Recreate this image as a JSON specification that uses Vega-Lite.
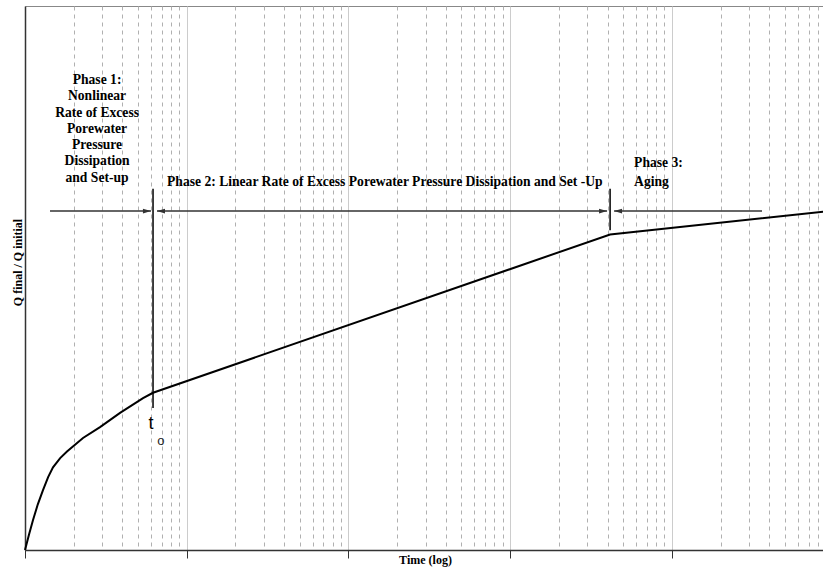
{
  "$schema": "https://vega.github.io/schema/vega-lite/v6.json",
  "width": 800,
  "height": 544,
  "autosize": {"type": "none"},
  "padding": {"left": 25, "top": 6, "right": 0, "bottom": 17},
  "background": "white",
  "config": {"view": {"stroke": "#888", "strokeWidth": 1}},
  "datasets": {
    "curve": [
      {"t": 1, "v": 0},
      {"t": 1.06, "v": 2.9},
      {"t": 1.121, "v": 5.5},
      {"t": 1.2, "v": 8.4},
      {"t": 1.292, "v": 11.0},
      {"t": 1.39, "v": 13.4},
      {"t": 1.49, "v": 15.2},
      {"t": 1.65, "v": 16.9},
      {"t": 1.818, "v": 18.1},
      {"t": 2.284, "v": 20.6},
      {"t": 2.91, "v": 22.6},
      {"t": 3.87, "v": 25.2},
      {"t": 5.37, "v": 27.9},
      {"t": 6.19, "v": 28.9},
      {"t": 4150, "v": 58.0},
      {"t": 88500, "v": 62.2}
    ],
    "dividers": [
      {"t": 6.19, "v": 26.1, "v2": 66.4},
      {"t": 4150, "v": 58.8, "v2": 66.4}
    ],
    "shafts": [
      {"t": 1.428, "t2": 6.01, "v": 62.3},
      {"t": 6.55, "t2": 3975, "v": 62.3},
      {"t": 4393, "t2": 36100, "v": 62.3}
    ],
    "heads": [
      {"t": 6.01, "v": 62.3, "dir": "right"},
      {"t": 6.55, "v": 62.3, "dir": "left"},
      {"t": 3975, "v": 62.3, "dir": "right"},
      {"t": 4393, "v": 62.3, "dir": "left"}
    ],
    "phase1": [{"t": 2.79, "v": 86.4, "label": "Phase 1:\nNonlinear\nRate of Excess\nPorewater\nPressure\nDissipation\nand Set-up"}],
    "phase2": [{"t": 168, "v": 67.6, "label": "Phase 2:  Linear Rate of Excess Porewater Pressure Dissipation and Set -Up"}],
    "phase3": [{"t": 5840, "v": 71.1, "label": "Phase 3:\nAging"}],
    "tlabel": [{"t": 6.01, "v": 23.1, "label": "t"}],
    "olabel": [{"t": 6.93, "v": 20.0, "label": "o"}]
  },
  "layer": [
    {
      "data": {"name": "curve"},
      "mark": {"type": "line", "color": "black", "strokeWidth": 2, "interpolate": "linear"},
      "encoding": {
        "x": {
          "field": "t", "type": "quantitative", "title": "Time (log)",
          "scale": {"type": "log", "domain": [1, 88500], "nice": false},
          "axis": {
            "values": [1,2,3,4,5,6,7,8,9,10,20,30,40,50,60,70,80,90,100,200,300,400,500,600,700,800,900,1000,2000,3000,4000,5000,6000,7000,8000,9000,10000,20000,30000,40000,50000,60000,70000,80000],
            "labels": false,
            "grid": true,
            "gridDash": {"condition": {"test": "abs(log(datum.value)/LN10 - round(log(datum.value)/LN10)) < 0.001", "value": []}, "value": [4, 4]},
            "gridColor": {"condition": {"test": "abs(log(datum.value)/LN10 - round(log(datum.value)/LN10)) < 0.001", "value": "#cccccc"}, "value": "#b0b0b0"},
            "gridWidth": 1,
            "ticks": true,
            "tickSize": 8,
            "tickColor": "#333",
            "tickOpacity": {"condition": {"test": "abs(log(datum.value)/LN10 - round(log(datum.value)/LN10)) < 0.001", "value": 1}, "value": 0},
            "domainColor": "#333",
            "domainWidth": 1.5,
            "titleFont": "Liberation Serif",
            "titleFontWeight": "bold",
            "titleFontSize": 12,
            "titleColor": "black",
            "titleBaseline": "middle",
            "titleY": 9
          }
        },
        "y": {
          "field": "v", "type": "quantitative", "title": "Q final / Q initial",
          "scale": {"domain": [0, 100], "nice": false},
          "axis": {
            "labels": false, "ticks": false, "grid": false,
            "domainColor": "#333", "domainWidth": 1.5,
            "titleFont": "Liberation Serif", "titleFontWeight": "bold", "titleFontSize": 12, "titleColor": "black",
            "titleAngle": 270, "titleBaseline": "middle", "titleAlign": "center",
            "titleX": -8, "titleY": 256
          }
        }
      }
    },
    {
      "data": {"name": "dividers"},
      "mark": {"type": "rule", "color": "black", "strokeWidth": 1.5},
      "encoding": {
        "x": {"field": "t", "type": "quantitative", "title": "Time (log)"},
        "y": {"field": "v", "type": "quantitative", "title": "Q final / Q initial"},
        "y2": {"field": "v2"}
      }
    },
    {
      "data": {"name": "shafts"},
      "mark": {"type": "rule", "color": "#333", "strokeWidth": 1.5},
      "encoding": {
        "x": {"field": "t", "type": "quantitative", "title": "Time (log)"},
        "x2": {"field": "t2"},
        "y": {"field": "v", "type": "quantitative", "title": "Q final / Q initial"}
      }
    },
    {
      "data": {"name": "heads"},
      "mark": {"type": "point", "filled": true, "color": "#333", "opacity": 1, "size": 256},
      "encoding": {
        "x": {"field": "t", "type": "quantitative", "title": "Time (log)"},
        "y": {"field": "v", "type": "quantitative", "title": "Q final / Q initial"},
        "shape": {
          "field": "dir", "type": "nominal", "legend": null,
          "scale": {"domain": ["right", "left"], "range": ["M 0 0 L -1 -0.3 L -1 0.3 Z", "M 0 0 L 1 -0.3 L 1 0.3 Z"]}
        }
      }
    },
    {
      "data": {"name": "phase1"},
      "mark": {"type": "text", "font": "Liberation Serif", "fontWeight": "bold", "fontSize": 13.6, "color": "black", "align": "center", "baseline": "middle", "lineBreak": "\n", "lineHeight": 16.3},
      "encoding": {
        "x": {"field": "t", "type": "quantitative", "title": "Time (log)"},
        "y": {"field": "v", "type": "quantitative", "title": "Q final / Q initial"},
        "text": {"field": "label"}
      }
    },
    {
      "data": {"name": "phase2"},
      "mark": {"type": "text", "font": "Liberation Serif", "fontWeight": "bold", "fontSize": 13.6, "color": "black", "align": "center", "baseline": "middle"},
      "encoding": {
        "x": {"field": "t", "type": "quantitative", "title": "Time (log)"},
        "y": {"field": "v", "type": "quantitative", "title": "Q final / Q initial"},
        "text": {"field": "label"}
      }
    },
    {
      "data": {"name": "phase3"},
      "mark": {"type": "text", "font": "Liberation Serif", "fontWeight": "bold", "fontSize": 13.6, "color": "black", "align": "left", "baseline": "middle", "lineBreak": "\n", "lineHeight": 19},
      "encoding": {
        "x": {"field": "t", "type": "quantitative", "title": "Time (log)"},
        "y": {"field": "v", "type": "quantitative", "title": "Q final / Q initial"},
        "text": {"field": "label"}
      }
    },
    {
      "data": {"name": "tlabel"},
      "mark": {"type": "text", "font": "Liberation Sans", "fontSize": 18, "color": "black", "align": "center", "baseline": "middle"},
      "encoding": {
        "x": {"field": "t", "type": "quantitative", "title": "Time (log)"},
        "y": {"field": "v", "type": "quantitative", "title": "Q final / Q initial"},
        "text": {"field": "label"}
      }
    },
    {
      "data": {"name": "olabel"},
      "mark": {"type": "text", "font": "Liberation Sans", "fontSize": 13, "color": "#222", "align": "center", "baseline": "middle"},
      "encoding": {
        "x": {"field": "t", "type": "quantitative", "title": "Time (log)"},
        "y": {"field": "v", "type": "quantitative", "title": "Q final / Q initial"},
        "text": {"field": "label"}
      }
    }
  ]
}
